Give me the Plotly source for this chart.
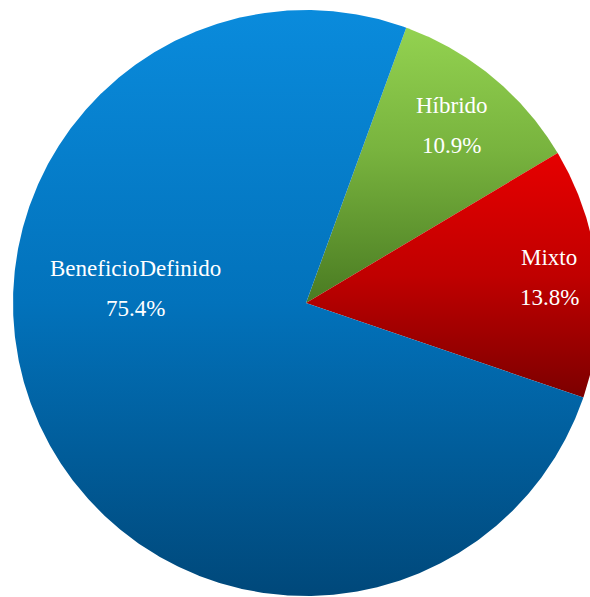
import numpy as np
import plotly.graph_objects as go

# Plan type shares (percent)
categories = ["Híbrido", "Mixto", "BeneficioDefinido"]
values = [10.9, 13.8, 75.4]

# Vertical gradients per slice: bottom -> top
gradients = [
    [[0.0, "#4a7b22"], [0.55, "#78b33e"], [1.0, "#93d250"]],
    [[0.0, "#7c0000"], [0.5, "#c00000"], [1.0, "#e60000"]],
    [[0.0, "#00487a"], [0.5, "#0272bb"], [1.0, "#0a8bdc"]],
]

START_ANGLE = 20.0  # degrees clockwise from 12 o'clock
# Label anchors as (angle in degrees clockwise from top, fraction of radius)
label_anchor = [(39.3, 0.785), (84.1, 0.835), (275.0, 0.585)]

total = sum(values)
fig = go.Figure()

angle = START_ANGLE
for name, v, cs in zip(categories, values, gradients):
    sweep = 360.0 * v / total
    th = np.radians(np.linspace(angle, angle + sweep, max(int(sweep * 3), 8)))
    xs = np.concatenate([[0.0], np.sin(th), [0.0]])
    ys = np.concatenate([[0.0], np.cos(th), [0.0]])
    # gradient spans the circle for the large slice, the wedge extent otherwise
    if sweep > 180:
        lo, hi = -1.0, 1.0
    else:
        lo, hi = float(ys.min()), float(ys.max())
    fig.add_trace(go.Scatter(
        x=xs, y=ys, mode="lines", fill="toself",
        line=dict(width=0, color="rgba(0,0,0,0)"),
        fillgradient=dict(type="vertical", colorscale=cs, start=lo, stop=hi),
        hoverinfo="skip", showlegend=False, name=name,
    ))
    angle += sweep

font = dict(family="Liberation Serif, Times New Roman, serif", size=23, color="#ffffff")
for name, v, (a, f) in zip(categories, values, label_anchor):
    lx = f * np.sin(np.radians(a))
    ly = f * np.cos(np.radians(a))
    fig.add_annotation(x=lx, y=ly, text=name, showarrow=False, font=font,
                       xanchor="center", yanchor="middle", yshift=20)
    fig.add_annotation(x=lx, y=ly, text=f"{v:.1f}%", showarrow=False, font=font,
                       xanchor="center", yanchor="middle", yshift=-20)

R_PX = 293.0
CX, CY = 306.0, 303.0
W, H = 590, 597
fig.update_layout(
    width=W, height=H,
    margin=dict(l=0, r=0, t=0, b=0),
    paper_bgcolor="white", plot_bgcolor="white",
    xaxis=dict(range=[-CX / R_PX, (W - CX) / R_PX], visible=False, fixedrange=True),
    yaxis=dict(range=[-(H - CY) / R_PX, CY / R_PX], visible=False, fixedrange=True),
    showlegend=False,
)

fig.write_html("out.html")
